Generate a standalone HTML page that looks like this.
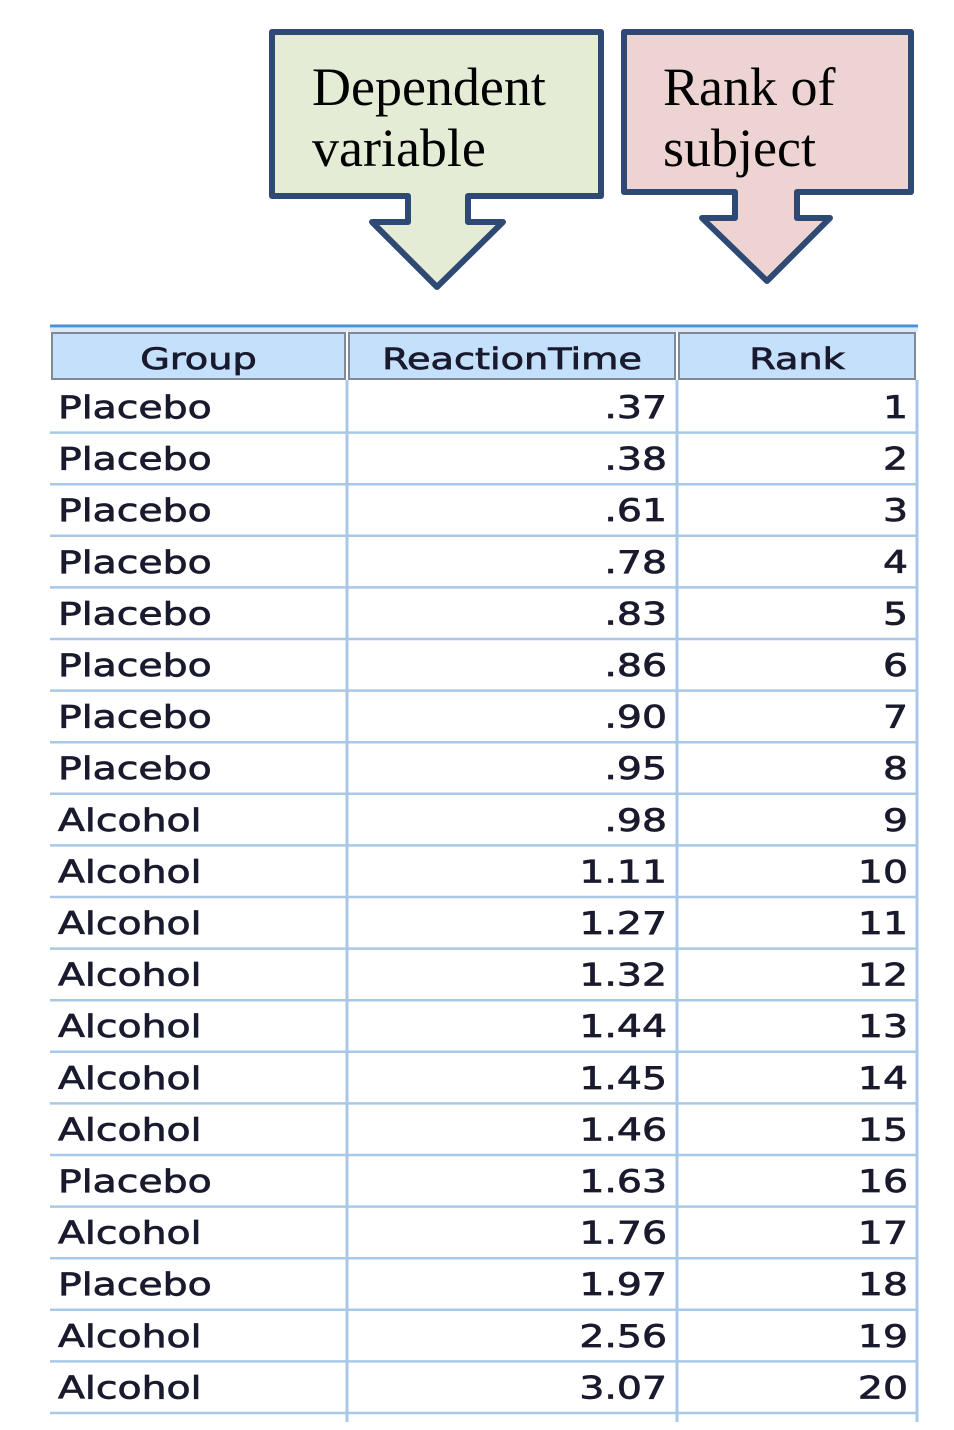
<!DOCTYPE html>
<html><head><meta charset="utf-8"><style>
html,body{margin:0;padding:0;background:#fff;width:954px;height:1430px;overflow:hidden}
</style></head><body>
<svg id="s" width="954" height="1430" xmlns="http://www.w3.org/2000/svg">
<g>
<path d="M272,32 H601 V196 H468 V222 H503 L437,287 L372,222 H408 V196 H272 Z" fill="#e4ecd6" stroke="#2e4a74" stroke-width="6" stroke-linejoin="round"/>
<text x="312" y="105" font-family="Liberation Serif, serif" font-size="54" fill="#000">Dependent</text>
<text x="312" y="166" font-family="Liberation Serif, serif" font-size="54" fill="#000">variable</text>
</g>
<g>
<path d="M624,32 H911 V192 H797 V218 H830 L767,281 L702,218 H735 V192 H624 Z" fill="#eed3d3" stroke="#2e4a74" stroke-width="6" stroke-linejoin="round"/>
<text x="663" y="105" font-family="Liberation Serif, serif" font-size="54" fill="#000">Rank of</text>
<text x="663" y="166" font-family="Liberation Serif, serif" font-size="54" fill="#000">subject</text>
</g>
<g id="tbl"></g>
</svg>
<script>
const groups=["Placebo","Placebo","Placebo","Placebo","Placebo","Placebo","Placebo","Placebo","Alcohol","Alcohol","Alcohol","Alcohol","Alcohol","Alcohol","Alcohol","Placebo","Alcohol","Placebo","Alcohol","Alcohol"];
const times=[".37",".38",".61",".78",".83",".86",".90",".95",".98","1.11","1.27","1.32","1.44","1.45","1.46","1.63","1.76","1.97","2.56","3.07"];
const ranks=[1,2,3,4,5,6,7,8,9,10,11,12,13,14,15,16,17,18,19,20];
const headers=["Group","ReactionTime","Rank"];
const NS="http://www.w3.org/2000/svg";
const g=document.getElementById('tbl');
function el(t,a){const e=document.createElementNS(NS,t);for(const k in a)e.setAttribute(k,a[k]);g.appendChild(e);return e;}
const cols=[50,347,677,917];
const top0=381,pitch=51.6;
const txt={'font-family':'DejaVu Sans, sans-serif','font-size':31,fill:'#1a1a2e',stroke:'#1a1a2e','stroke-width':0.7};
el('line',{x1:50,y1:326,x2:918,y2:326,stroke:'#4a90d9','stroke-width':3});
el('rect',{x:50,y:328,width:868,height:4,fill:'#dbe9f8'});
for(let c=0;c<3;c++){
 const r=el('rect',{x:cols[c]+2,y:333,width:cols[c+1]-cols[c]-4,height:46,fill:'#c5e0fb',stroke:'#7f8a96','stroke-width':2});
 
 
 const cx=(cols[c]+cols[c+1])/2;
 const t=el('text',Object.assign({},txt,{transform:`translate(${cx},369) scale(1.32,1)`,'text-anchor':'middle','font-size':29}));
 t.textContent=headers[c];
 
 
}
const n=groups.length;
const bottom=top0+pitch*n+10;
[347,677,917].forEach(x=>{el('line',{x1:x,y1:380,x2:x,y2:Math.min(bottom,1422),stroke:'#a9c8e6','stroke-width':3});});
for(let i=0;i<n;i++){
 const yb=top0+pitch*(i+1);
 el('line',{x1:50,y1:yb,x2:918,y2:yb,stroke:'#a9c8e6','stroke-width':2.5});
 const base=top0+pitch*i+37;
 const a=el('text',Object.assign({},txt,{transform:`translate(58,${base}) scale(1.27,1)`}));
 a.textContent=groups[i];
 
 
 const b=el('text',Object.assign({},txt,{transform:`translate(667,${base}) scale(1.27,1)`,'text-anchor':'end'}));
 b.textContent=times[i];
 
 
 const c=el('text',Object.assign({},txt,{transform:`translate(908,${base}) scale(1.27,1)`,'text-anchor':'end'}));
 c.textContent=ranks[i];
 
 
}
</script>
</body></html>
